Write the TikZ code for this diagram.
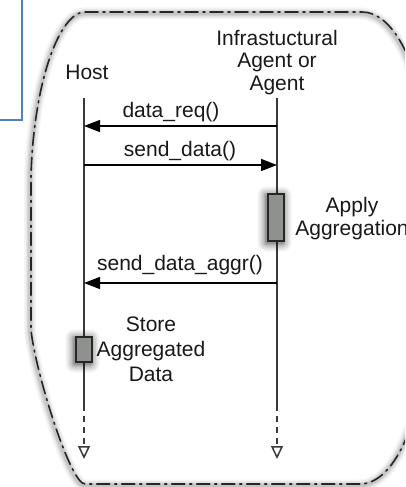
\documentclass[tikz,border=0pt]{standalone}
\usepackage{fontspec}
\setmainfont{Liberation Sans}
\usetikzlibrary{arrows.meta}
\definecolor{lifegray}{HTML}{3A3A3A}
\definecolor{boxgray}{HTML}{8E918E}
\definecolor{frameblue}{HTML}{4F81BD}
\tikzset{
  lbl/.style={font=\fontsize{21}{23}\selectfont, text=black!90, inner sep=0pt},
  lifeline/.style={draw=lifegray, line width=1.6pt},
  lifetail/.style={draw=lifegray, line width=1.5pt, dash pattern=on 6pt off 5pt,
    -{Triangle[open, length=13pt, width=12pt, line width=1.5pt]}},
  msg/.style={draw=black, line width=1.3pt, -{Triangle[length=16pt, width=12pt]}},
  actbox/.style={draw=black!85, line width=1.3pt, fill=boxgray, minimum width=16pt, inner sep=0pt},
  framepath/.style={draw=black!85, line width=1.6pt, line cap=round,
    dash pattern=on 13pt off 5pt on 2pt off 5pt},
}
\begin{document}
\begin{tikzpicture}[x=1pt, y=-1pt]
\useasboundingbox (0,0) rectangle (405,487);
\clip (0,0) rectangle (405,487);
\fill[white] (0,0) rectangle (405,487);

% partial blue frame in the top-left corner
\draw[frameblue, line width=1.5pt] (-5,-2) -- (-5,120) -- (22,120) -- (22,-2);

% rounded boundary; its right side runs just past the page edge
\def\boundary{(85,12) -- (362,12) .. controls (392,12) and (418,60) .. (426,130)
  -- (426,350) .. controls (418,435) and (390,484) .. (360,484)
  -- (85,484) .. controls (70,484) and (35,370) .. (31,330)
  -- (31,175) .. controls (34,80) and (60,12) .. cycle}
% soft shadow under it
\foreach \w/\o in {12/0.04, 9/0.05, 6/0.07, 3.5/0.08}{
  \draw[black, opacity=\o, line width=\w pt] [xshift=-1pt, yshift=-1.5pt] \boundary;
}
\draw[framepath] \boundary;

% lifeline headers
\node[lbl, anchor=north] (host) at (87,65) {Host};
\node[lbl, anchor=north, align=center, font=\fontsize{21}{22.5}\selectfont] (agent) at (277,30)
  {Infrastuctural\\Agent or\\Agent};

% lifeline anchor points
\coordinate (hTop) at (84,98);
\coordinate (hEnd) at (84,405);
\coordinate (hTip) at (84,459);
\coordinate (aTop) at (277,98);
\coordinate (aEnd) at (277,405);
\coordinate (aTip) at (277,459);

% lifelines
\draw[lifeline] (hTop) -- (hEnd);
\draw[lifeline] (aTop) -- (aEnd);
\draw[lifetail] (hEnd) -- (hTip);
\draw[lifetail] (aEnd) -- (aTip);

% message end points
\coordinate (h1) at (84,126);   \coordinate (a1) at (277,126);
\coordinate (h2) at (84,165);   \coordinate (a2) at (277,165);
\coordinate (h3) at (84,283);   \coordinate (a3) at (277,283);

% messages
\draw[msg] (a1) -- (h1);
\node[lbl, anchor=base] (m1) at (171,117) {data\_req()};
\draw[msg] (h2) -- (a2);
\node[lbl, anchor=base] (m2) at (180,156) {send\_data()};
\draw[msg] (a3) -- (h3);
\node[lbl, anchor=base] (m3) at (180,270) {send\_data\_aggr()};

% activation boxes with their blurred shadows
\foreach \cx/\cy/\h in {276/217.5/47, 84/349.5/25}{
  \foreach \g/\o in {9/0.05, 7/0.07, 5/0.09, 3/0.12, 1.5/0.15}{
    \fill[black, opacity=\o, rounded corners=\g pt]
      (\cx-8-\g-1.5, \cy-\h/2-\g+1.5) rectangle (\cx+8+\g-1.5, \cy+\h/2+\g+1.5);
  }
}
\node[actbox, minimum height=47pt] (apply) at (276,217.5) {};
\node[actbox, minimum height=25pt] (store) at (84,349.5) {};

% activity notes
\node[lbl, anchor=north, align=center, font=\fontsize{21}{23}\selectfont] (applytxt) at (352,197)
  {Apply\\Aggregation};
\node[lbl, anchor=north, align=center, font=\fontsize{21}{25}\selectfont] (storetxt) at (151,317)
  {Store\\Aggregated\\Data};
\end{tikzpicture}
\end{document}
